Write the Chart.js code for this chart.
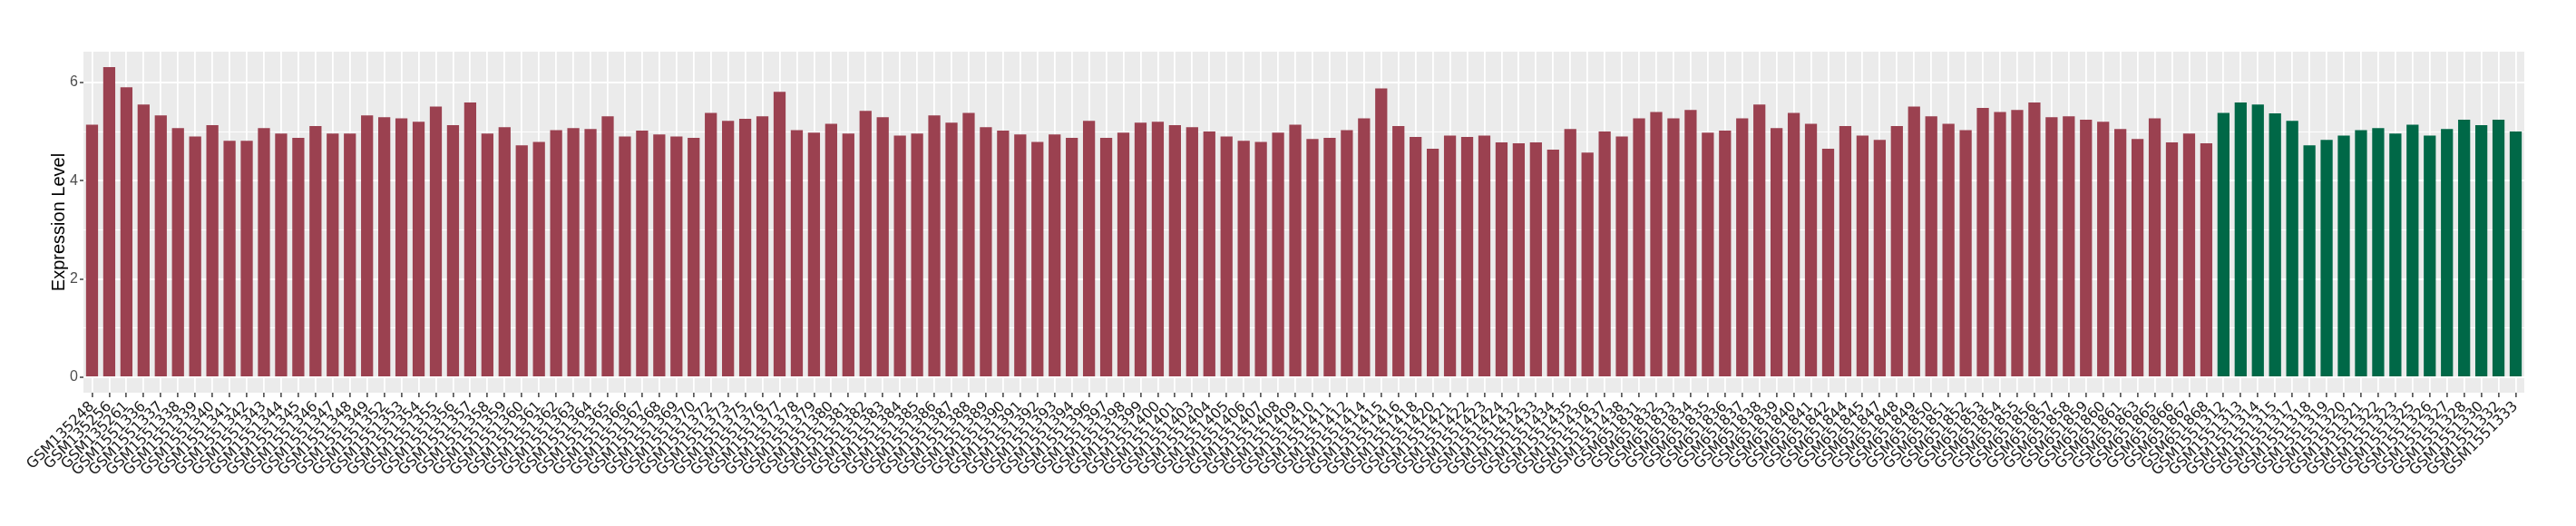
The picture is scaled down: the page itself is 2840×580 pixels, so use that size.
<!DOCTYPE html>
<html>
<head>
<meta charset="utf-8">
<script src="https://cdn.jsdelivr.net/npm/chart.js@4.4.0/dist/chart.umd.min.js"></script>
<style>
  html, body { margin: 0; padding: 0; background: #fff; }
  #wrap { width: 2840px; height: 580px; }
</style>
</head>
<body>
<div id="wrap"><canvas id="exprChart" width="2840" height="580"></canvas></div>
<script>
// Samples of the first group (red bars)
const redSamples = [
    'GSM135248', 'GSM135256', 'GSM135261', 'GSM1551336', 'GSM1551337', 'GSM1551338', 'GSM1551339', 'GSM1551340',
    'GSM1551341', 'GSM1551342', 'GSM1551343', 'GSM1551344', 'GSM1551345', 'GSM1551346', 'GSM1551347', 'GSM1551348',
    'GSM1551349', 'GSM1551352', 'GSM1551353', 'GSM1551354', 'GSM1551355', 'GSM1551356', 'GSM1551357', 'GSM1551358',
    'GSM1551359', 'GSM1551360', 'GSM1551361', 'GSM1551362', 'GSM1551363', 'GSM1551364', 'GSM1551365', 'GSM1551366',
    'GSM1551367', 'GSM1551368', 'GSM1551369', 'GSM1551370', 'GSM1551372', 'GSM1551373', 'GSM1551375', 'GSM1551376',
    'GSM1551377', 'GSM1551378', 'GSM1551379', 'GSM1551380', 'GSM1551381', 'GSM1551382', 'GSM1551383', 'GSM1551384',
    'GSM1551385', 'GSM1551386', 'GSM1551387', 'GSM1551388', 'GSM1551389', 'GSM1551390', 'GSM1551391', 'GSM1551392',
    'GSM1551393', 'GSM1551394', 'GSM1551396', 'GSM1551397', 'GSM1551398', 'GSM1551399', 'GSM1551400', 'GSM1551401',
    'GSM1551403', 'GSM1551404', 'GSM1551405', 'GSM1551406', 'GSM1551407', 'GSM1551408', 'GSM1551409', 'GSM1551410',
    'GSM1551411', 'GSM1551412', 'GSM1551414', 'GSM1551415', 'GSM1551416', 'GSM1551418', 'GSM1551420', 'GSM1551421',
    'GSM1551422', 'GSM1551423', 'GSM1551424', 'GSM1551432', 'GSM1551433', 'GSM1551434', 'GSM1551435', 'GSM1551436',
    'GSM1551437', 'GSM1551438', 'GSM651831', 'GSM651832', 'GSM651833', 'GSM651834', 'GSM651835', 'GSM651836',
    'GSM651837', 'GSM651838', 'GSM651839', 'GSM651840', 'GSM651841', 'GSM651842', 'GSM651844', 'GSM651845',
    'GSM651847', 'GSM651848', 'GSM651849', 'GSM651850', 'GSM651851', 'GSM651852', 'GSM651853', 'GSM651854',
    'GSM651855', 'GSM651856', 'GSM651857', 'GSM651858', 'GSM651859', 'GSM651860', 'GSM651861', 'GSM651863',
    'GSM651865', 'GSM651866', 'GSM651867', 'GSM651868'
];
const redValues = [
    5.14, 6.31, 5.90, 5.55, 5.33, 5.07, 4.90, 5.13,
    4.81, 4.81, 5.07, 4.96, 4.87, 5.11, 4.96, 4.96,
    5.33, 5.29, 5.27, 5.20, 5.51, 5.13, 5.59, 4.96,
    5.09, 4.72, 4.79, 5.03, 5.07, 5.05, 5.31, 4.90,
    5.02, 4.94, 4.90, 4.87, 5.38, 5.22, 5.26, 5.31,
    5.81, 5.03, 4.98, 5.16, 4.96, 5.42, 5.29, 4.92,
    4.96, 5.33, 5.18, 5.38, 5.09, 5.02, 4.94, 4.79,
    4.94, 4.87, 5.22, 4.87, 4.98, 5.18, 5.20, 5.13,
    5.09, 5.00, 4.90, 4.81, 4.79, 4.98, 5.14, 4.85,
    4.87, 5.03, 5.27, 5.88, 5.11, 4.89, 4.65, 4.92,
    4.89, 4.92, 4.78, 4.76, 4.78, 4.63, 5.05, 4.57,
    5.00, 4.90, 5.27, 5.40, 5.27, 5.44, 4.98, 5.02,
    5.27, 5.55, 5.07, 5.38, 5.16, 4.65, 5.11, 4.92,
    4.83, 5.11, 5.51, 5.31, 5.16, 5.03, 5.48, 5.40,
    5.44, 5.59, 5.29, 5.31, 5.24, 5.20, 5.05, 4.85,
    5.27, 4.78, 4.96, 4.76
];

// Samples of the second group (green bars)
const greenSamples = [
    'GSM1551312', 'GSM1551313', 'GSM1551314', 'GSM1551315', 'GSM1551317', 'GSM1551318', 'GSM1551319', 'GSM1551320',
    'GSM1551321', 'GSM1551322', 'GSM1551323', 'GSM1551325', 'GSM1551326', 'GSM1551327', 'GSM1551328', 'GSM1551330',
    'GSM1551332', 'GSM1551333'
];
const greenValues = [
    5.38, 5.59, 5.55, 5.37, 5.22, 4.72, 4.83, 4.92,
    5.03, 5.07, 4.96, 5.14, 4.92, 5.05, 5.24, 5.13,
    5.24, 5.00
];

const yLabelTicks = [0, 2, 4, 6];
const yGridTicks = [0, 1, 2, 3, 4, 5, 6];
const yRange = [-0.3155, 6.6255];

const RED = '#9B4150';
const GREEN = '#006847';

const labels = redSamples.concat(greenSamples);
const values = redValues.concat(greenValues);
const barColors = labels.map((_, i) => i < redSamples.length ? RED : GREEN);

// grey panel behind the plot, white page around it
const panelBg = {
    id: 'panelBg',
    beforeDraw(chart) {
        const { ctx, chartArea: a } = chart;
        ctx.save();
        ctx.fillStyle = '#FFFFFF';
        ctx.fillRect(0, 0, chart.width, chart.height);
        ctx.fillStyle = '#EBEBEB';
        ctx.fillRect(a.left, a.top, a.right - a.left, a.bottom - a.top);
        ctx.restore();
    }
};

const isMajor = v => yLabelTicks.includes(v);

new Chart(document.getElementById('exprChart').getContext('2d'), {
    type: 'bar',
    data: {
        labels: labels,
        datasets: [{
            data: values,
            backgroundColor: barColors,
            borderWidth: 0,
            barPercentage: 0.7,
            categoryPercentage: 1.0
        }]
    },
    options: {
        responsive: false,
        animation: false,
        devicePixelRatio: 1,
        layout: { padding: { left: 0, top: 57, right: 57, bottom: 0 } },
        plugins: {
            legend: { display: false },
            tooltip: { enabled: false }
        },
        scales: {
            x: {
                offset: true,
                border: { display: false },
                grid: {
                    offset: false,
                    color: '#FFFFFF',
                    lineWidth: 1.8,
                    drawTicks: true,
                    tickLength: 5,
                    tickColor: '#333333',
                    tickWidth: 1.4
                },
                ticks: {
                    autoSkip: false,
                    minRotation: 45,
                    maxRotation: 45,
                    padding: 1,
                    color: '#1A1A1A',
                    font: { family: "'DejaVu Sans', sans-serif", size: 16 }
                },
                afterFit: scale => { scale.height = 147; }
            },
            y: {
                min: yRange[0],
                max: yRange[1],
                border: { display: false },
                afterBuildTicks: scale => {
                    scale.ticks = yGridTicks.map(v => ({ value: v }));
                },
                grid: {
                    color: '#FFFFFF',
                    lineWidth: c => isMajor(c.tick.value) ? 2 : 1,
                    drawTicks: true,
                    tickLength: 4,
                    tickWidth: 1.4,
                    tickColor: c => isMajor(c.tick.value) ? '#333333' : 'rgba(0,0,0,0)'
                },
                ticks: {
                    padding: 2,
                    color: '#4D4D4D',
                    font: { family: "'Liberation Sans', Arial, sans-serif", size: 16 },
                    callback: v => isMajor(v) ? String(v) : ''
                },
                title: {
                    display: true,
                    text: 'Expression Level',
                    color: '#000000',
                    font: { family: "'Liberation Sans', Arial, sans-serif", size: 20 },
                    padding: { top: 53, bottom: 0 }
                },
                afterFit: scale => { scale.width = 92; }
            }
        }
    },
    plugins: [panelBg]
});
</script>
</body>
</html>
